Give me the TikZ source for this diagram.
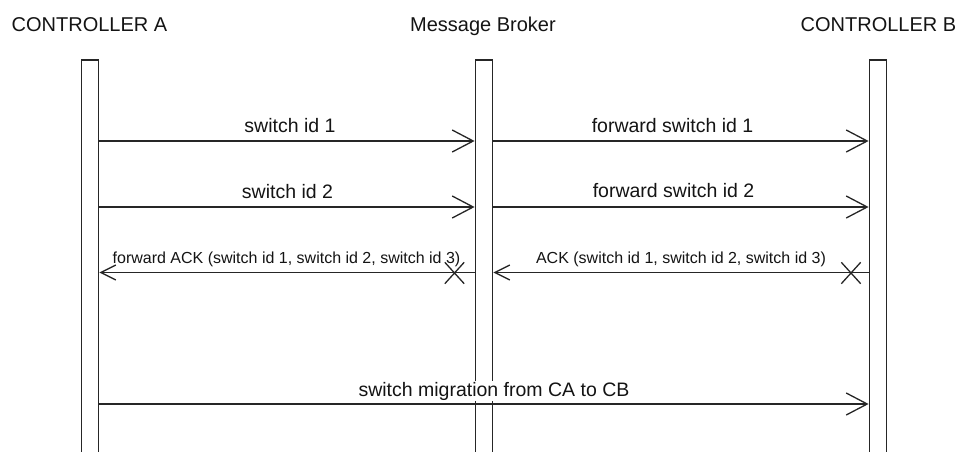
\documentclass[tikz,border=0pt]{standalone}
\usepackage{fontspec}
\setmainfont{Liberation Sans}
\usetikzlibrary{arrows.meta,shapes.misc}
\begin{document}
\begin{tikzpicture}[x=1pt,y=-1pt,
  lifebar/.style={draw=black!85,line width=1.4pt,fill=white,minimum width=17.4pt,minimum height=420pt,inner sep=0pt,anchor=north},
  head/.style={anchor=base,inner sep=0pt,font=\fontsize{20}{24}\selectfont,text=black!92},
  msglabel/.style={anchor=base,inner sep=1pt,fill=white,font=\fontsize{19.5}{23}\selectfont,text=black!92},
  acklabel/.style={anchor=base,inner sep=1pt,fill=white,font=\fontsize{16}{19}\selectfont,text=black!92},
  msg/.style={draw=black!85,line width=1.3pt,-{Straight Barb[length=21pt,width=22pt,line width=1.3pt]}},
  ackmsg/.style={draw=black!85,line width=1.3pt,-{Straight Barb[length=15pt,width=15pt,line width=1.3pt]}},
  lostmark/.style={cross out,draw=black!85,line width=1.3pt,minimum width=18pt,minimum height=20pt,inner sep=0pt}
]
\useasboundingbox (0,0) rectangle (959,451);
% headers
\node[head] (hA) at (89.5,31) {CONTROLLER A};
\node[head] (hM) at (483,31) {Message Broker};
\node[head] (hB) at (878.5,31) {CONTROLLER B};
% lifeline bars
\node[lifebar] (barA) at (90,59.3) {};
\node[lifebar] (barM) at (484,59.3) {};
\node[lifebar] (barB) at (878,59.3) {};
% row coordinates
\coordinate (r1) at (0,141);
\coordinate (r2) at (0,207);
\coordinate (r3) at (0,272.5);
\coordinate (r4) at (0,404);
% labels
\node[msglabel] (l1) at (290,132) {switch id 1};
\node[msglabel] (l2) at (672.5,132) {forward switch id 1};
\node[msglabel] (l3) at (287.5,198) {switch id 2};
\node[msglabel] (l4) at (673.5,197) {forward switch id 2};
\node[acklabel] (l5) at (286.5,263) {forward ACK (switch id 1, switch id 2, switch id 3)};
\node[acklabel] (l6) at (681,263) {ACK (switch id 1, switch id 2, switch id 3)};
% messages
\draw[msg] (barA.east |- r1) -- (barM.west |- r1);
\draw[msg] (barM.east |- r1) -- (barB.west |- r1);
\draw[msg] (barA.east |- r2) -- (barM.west |- r2);
\draw[msg] (barM.east |- r2) -- (barB.west |- r2);
\draw[ackmsg] (barM.west |- r3) -- (barA.east |- r3);
\draw[ackmsg] (barB.west |- r3) -- (barM.east |- r3);
\node[lostmark] (x1) at (454.5,273) {};
\node[lostmark] (x2) at (851,273) {};
\node[msglabel] (l7) at (494,396) {switch migration from CA to CB};
\draw[msg] (barA.east |- r4) -- (barB.west |- r4);
\end{tikzpicture}
\end{document}
